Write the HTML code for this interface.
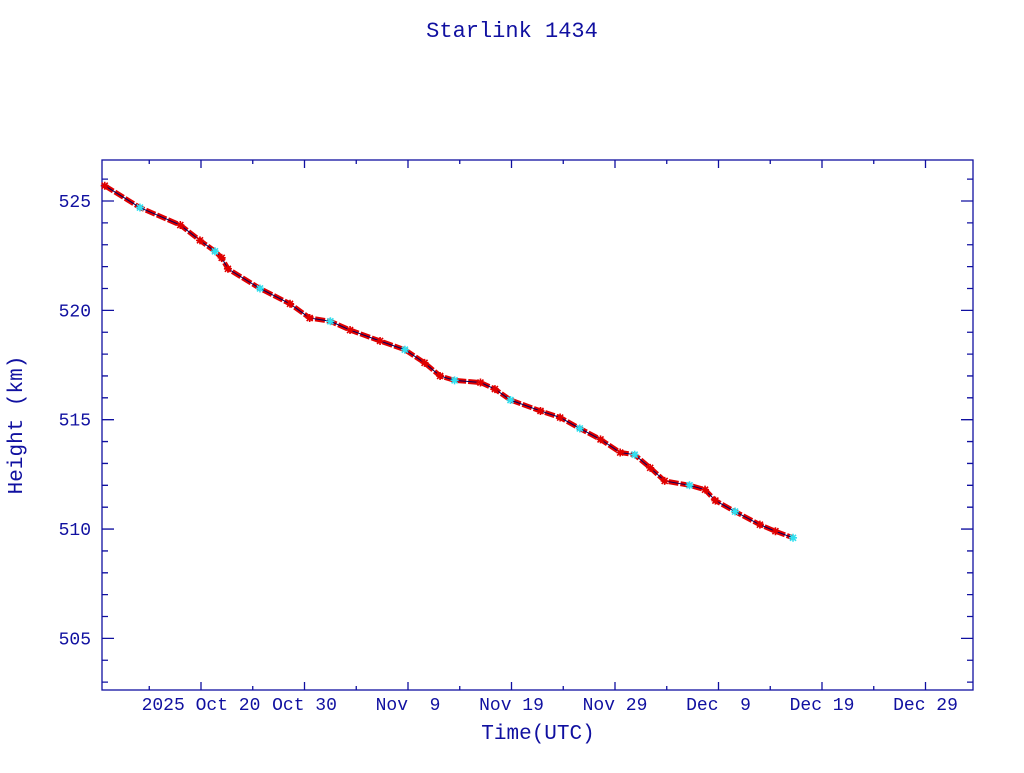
<!DOCTYPE html>
<html><head><meta charset="utf-8"><style>
body{margin:0;background:#fff;width:1024px;height:768px;overflow:hidden}
svg text{font-family:"Liberation Mono",monospace;fill:#1010a0}
</style></head><body>
<svg id="chart" width="1024" height="768" xmlns="http://www.w3.org/2000/svg">
<text x="512" y="37" font-size="22" text-anchor="middle">Starlink 1434</text>
<rect x="102" y="160" width="871" height="530" fill="none" stroke="#1010a0" stroke-width="1.3"/>
<g id="axes"></g>
<g id="series"></g>
<text x="538" y="739" font-size="21" text-anchor="middle">Time(UTC)</text>
<text transform="translate(22,425) rotate(-90)" font-size="21" text-anchor="middle">Height (km)</text>
</svg>
<script>
// days relative to 2025 Oct 20
const days=[-9.3,-5.9,-2.0,-0.1,1.35,2.0,2.6,5.7,8.6,10.5,12.5,14.4,17.3,19.7,21.6,23.1,24.5,27.0,28.4,29.9,32.8,34.7,36.6,38.6,40.5,41.9,43.4,44.8,47.2,48.7,49.7,51.6,54.0,55.5,57.2];
const heights=[525.7,524.7,523.9,523.2,522.7,522.4,521.9,521.0,520.3,519.65,519.5,519.1,518.6,518.2,517.6,517.0,516.8,516.7,516.4,515.9,515.4,515.1,514.6,514.1,513.5,513.4,512.8,512.2,512.0,511.8,511.3,510.8,510.2,509.9,509.6];
const yTicks=[505,510,515,520,525];
const xTickDays=[0,10,20,30,40,50,60,70];
const xTickLabels=["2025 Oct 20","Oct 30","Nov  9","Nov 19","Nov 29","Dec  9","Dec 19","Dec 29"];

const NS="http://www.w3.org/2000/svg";
const X0=102,X1=973,Y0=160,Y1=690;
const xs=d=>201+d*10.35;
const ys=h=>201+(525-h)*21.87;
const axes=document.getElementById('axes'),series=document.getElementById('series');
function mk(tag,attrs,parent){const e=document.createElementNS(NS,tag);for(const k in attrs)e.setAttribute(k,attrs[k]);parent.appendChild(e);return e;}
for(let h=503;h<=526;h++){
  const y=ys(h);if(y<Y0||y>Y1)continue;
  const major=h%5===0,len=major?12:6;
  const t=mk('path',{d:`M${X0},${y}h${len}M${X1},${y}h${-len}`,stroke:'#1010a0','stroke-width':1.3},axes);
  
  
}
yTicks.forEach(v=>{
  const t=mk('text',{x:91,y:ys(v)+6,'font-size':18,'text-anchor':'end'},axes);t.textContent=v;
  
  
});
for(let d=-10;d<=75;d+=5){
  const x=xs(d);if(x<=X0||x>=X1)continue;
  const len=d%10===0?8:4;
  const t=mk('path',{d:`M${x},${Y1}v${-len}M${x},${Y0}v${len}`,stroke:'#1010a0','stroke-width':1.3},axes);
  
  
}
xTickDays.forEach((d,i)=>{
  const t=mk('text',{x:xs(d),y:710,'font-size':18,'text-anchor':'middle'},axes);
  t.setAttribute('style','white-space:pre');
  t.textContent=xTickLabels[i];
  
  
});
const pts=days.map((d,i)=>xs(d)+','+ys(heights[i])).join(' ');
const band=mk('polyline',{points:pts,fill:'none',stroke:'#e00000','stroke-width':5,'stroke-dasharray':'10 2'},series);


const line=mk('polyline',{points:pts,fill:'none',stroke:'#000060','stroke-width':1},series);


days.forEach((d,i)=>{
  const x=xs(d),y=ys(heights[i]),c=i%3===1?'#30e0f0':'#e00000';
  const m=mk('path',{d:`M${x-4},${y}h8M${x},${y-4}v8M${x-3},${y-3}l6,6M${x+3},${y-3}l-6,6`,stroke:c,'stroke-width':1.6},series);
  
  
});
</script>
</body></html>
